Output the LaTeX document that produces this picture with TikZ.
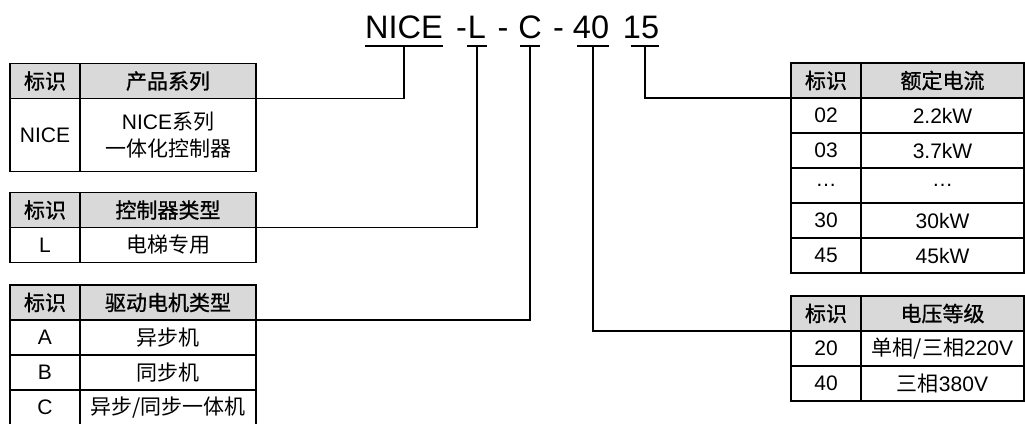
\documentclass[tikz,border=0pt]{standalone}
\usepackage{fontspec}
\setmainfont{Liberation Sans}
\newfontfamily\cjk{Noto Sans CJK SC}
\newfontfamily\cjkhead[FakeBold=1]{Noto Sans CJK SC}
\newcommand{\zh}[1]{{\cjk #1}}
\newcommand{\zhh}[1]{{\cjkhead #1}}
\usetikzlibrary{calc}

\begin{document}
\begin{tikzpicture}[x=1pt,y=-1pt,
    cell/.style={draw,line width=1.2pt,inner sep=0pt,outer sep=0pt,anchor=north west,
      minimum height=35pt,align=center,font=\fontsize{21}{27}\selectfont},
    headcell/.style={cell,fill=gray!30},
    code/.style={inner sep=0pt,anchor=base,font=\fontsize{32.5}{36}\selectfont},
    link/.style={line width=1.1pt},
    uline/.style={line width=1.6pt}]

    \useasboundingbox (0,0) rectangle (1025,423);

    \newcommand*{\colA}{70}%
    \newcommand*{\colB}{176}%
    \newcommand*{\colC}{163}%
    \newcommand*{\rowh}{35}%

    % model code ↓
    \foreach \nm/\tx/\cx/\hw in {NICE/404/404/39,L/477/477/10,C/530/530/10,40/591/593/16,15/641/645/14}
    {
        \node[code] (c\nm) at (\tx,38) {\nm};
        \coordinate (u\nm) at (\cx,46);
        \draw[uline] (\cx-\hw,46) -- (\cx+\hw,46);
    }
    \foreach \cx [count=\i] in {461.5,503,558.5}
        \node[code] (d\i) at (\cx,38) {-};

    % product series ↓
    \node[headcell,minimum width=\colA] (t1h1) at (10,63.5) {\zhh{标识}};
    \node[headcell,minimum width=\colB] (t1h2) at (t1h1.north east) {\zhh{产品系列}};
    \node[cell,minimum width=\colA,minimum height=73] (t1r1a) at (t1h1.south west) {NICE};
    \node[cell,minimum width=\colB,minimum height=73] (t1r1b) at (t1h2.south west) {NICE\zh{系列}\\\zh{一体化控制器}};

    % controller type ↓
    \node[headcell,minimum width=\colA] (t2h1) at (10,192.5) {\zhh{标识}};
    \node[headcell,minimum width=\colB] (t2h2) at (t2h1.north east) {\zhh{控制器类型}};
    \node[cell,minimum width=\colA] (t2r1a) at (t2h1.south west) {L};
    \node[cell,minimum width=\colB] (t2r1b) at (t2h2.south west) {\zh{电梯专用}};

    % motor type ↓
    \node[headcell,minimum width=\colA] (t3h1) at (10,285) {\zhh{标识}};
    \node[headcell,minimum width=\colB] (t3h2) at (t3h1.north east) {\zhh{驱动电机类型}};
    \foreach \a/\b [count=\i] in {A/\zh{异步机},B/\zh{同步机},C/\zh{异步/同步一体机}}
    {
        \node[cell,minimum width=\colA] (t3r\i a) at (10,{285+\rowh*\i}) {\a};
        \node[cell,minimum width=\colB] (t3r\i b) at (80,{285+\rowh*\i}) {\b};
    }

    % rated power ↓
    \node[headcell,minimum width=\colA] (r1h1) at (791,63) {\zhh{标识}};
    \node[headcell,minimum width=\colC] (r1h2) at (r1h1.north east) {\zhh{额定电流}};
    \foreach \a/\b [count=\i] in {02/2.2kW,03/3.7kW,…/…,30/30kW,45/45kW}
    {
        \node[cell,minimum width=\colA] (r1r\i a) at (791,{63+\rowh*\i}) {\a};
        \node[cell,minimum width=\colC] (r1r\i b) at (861,{63+\rowh*\i}) {\b};
    }

    % voltage class ↓
    \node[headcell,minimum width=\colA] (r2h1) at (791,296) {\zhh{标识}};
    \node[headcell,minimum width=\colC] (r2h2) at (r2h1.north east) {\zhh{电压等级}};
    \foreach \a/\b [count=\i] in {20/\zh{单相/三相}220V,40/\zh{三相}380V}
    {
        \node[cell,minimum width=\colA] (r2r\i a) at (791,{296+\rowh*\i}) {\a};
        \node[cell,minimum width=\colC] (r2r\i b) at (861,{296+\rowh*\i}) {\b};
    }

    % links ↓
    \draw[link] (uNICE) |- (t1h2.south east);
    \draw[link] (uL) |- (t2h2.south east);
    \draw[link] (uC) |- (t3h2.south east);
    \draw[link] (u40) |- (r2h1.south west);
    \draw[link] (u15) |- (r1h1.south west);

\end{tikzpicture}
\end{document}
